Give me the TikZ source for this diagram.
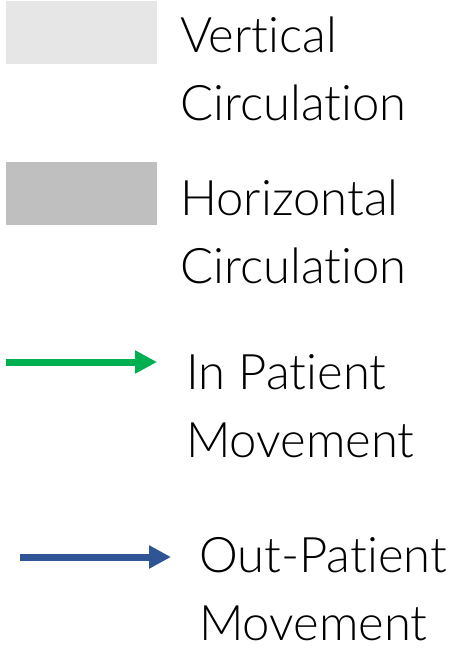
\documentclass[tikz,border=0pt]{standalone}
\usepackage{fontspec}
\setmainfont{Lato}[UprightFont=* Light, Ligatures=NoCommon]
\usepackage{xcolor}
\usetikzlibrary{arrows.meta,positioning}
\definecolor{vertgray}{HTML}{E6E6E6}
\definecolor{horizgray}{HTML}{BFBFBF}
\definecolor{ingreen}{HTML}{00B050}
\definecolor{outblue}{HTML}{2F5597}
\tikzset{
  swatch/.style={draw=none, minimum width=151pt, minimum height=63pt, inner sep=0pt, anchor=north west},
  legendtext/.style={anchor=base west, inner sep=0pt, align=left, font={\fontsize{49pt}{68pt}\selectfont}},
  flowarrow/.style={line width=7pt, -{Triangle[length=22pt,width=22pt]}}
}

\begin{document}
\begin{tikzpicture}[x=1pt, y=-1pt]
  \useasboundingbox (0,0) rectangle (453,654);
  % Swatches
  \node[swatch, fill=vertgray]  (vert)  at (6,1)   {};
  \node[swatch, fill=horizgray] (horiz) at (6,162) {};

  % Arrows
  \coordinate (inA)  at (6,362);
  \coordinate (inB)  at (157,362);
  \coordinate (outA) at (20,557);
  \coordinate (outB) at (171,557);
  \draw[flowarrow, ingreen] (inA) -- (inB);
  \draw[flowarrow, outblue] (outA) -- (outB);

  % Labels (base = last line)
  \node[legendtext] (vertlab)   at (180,120) {Vertical\\Circulation};
  \node[legendtext] (horizlab)  at (180,283) {Horizontal\\Circulation};
  \node[legendtext] (inlab)     at (186,457) {In Patient\\Movement};
  \node[legendtext] (outlab)    at (199,640) {Out-Patient\\Movement};
\end{tikzpicture}
\end{document}
